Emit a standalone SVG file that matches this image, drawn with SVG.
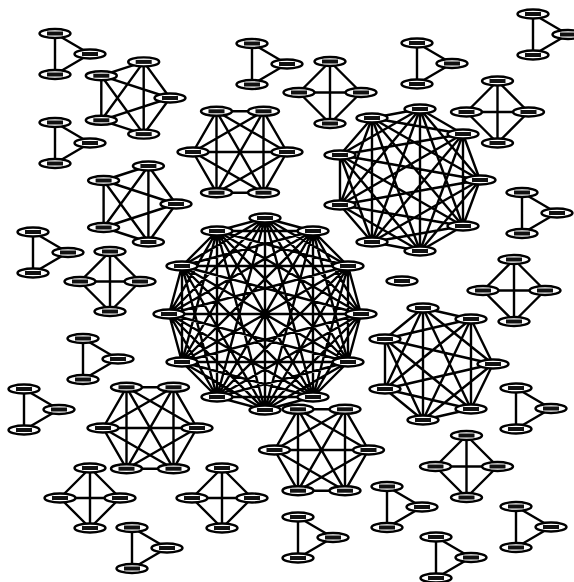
<svg xmlns="http://www.w3.org/2000/svg" xmlns:xlink="http://www.w3.org/1999/xlink" width="574" height="582" viewBox="0 0 574 582">
<style>
.e{fill:none;stroke:#000;stroke-width:2.4;stroke-linejoin:round;stroke-linecap:round}
.nd{fill:#fff;stroke:#000;stroke-width:2.4}
.nb{fill:#111}
</style>
<defs>
<g id="nd"><ellipse class="nd" cx="0" cy="0" rx="15.5" ry="4.5"/><rect class="nb" x="-8" y="-2" width="16" height="4"/></g>
</defs>
<rect width="574" height="582" fill="#fff"/>
<g id="connectors">
<path id="e-k12" class="e" d="M361 314 L348 266 L313 231 L265 218 L217 231 L182 266 L169 314 L182 362 L217 397 L265 410 L313 397 L348 362 Z M361 314 L313 231 L217 231 L169 314 L217 397 L313 397 Z M348 266 L265 218 L182 266 L182 362 L265 410 L348 362 Z M361 314 L265 218 L169 314 L265 410 Z M348 266 L217 231 L182 362 L313 397 Z M313 231 L182 266 L217 397 L348 362 Z M361 314 L217 231 L217 397 Z M348 266 L182 266 L265 410 Z M313 231 L169 314 L313 397 Z M265 218 L182 362 L348 362 Z M361 314 L182 266 L313 397 L265 218 L217 397 L348 266 L169 314 L348 362 L217 231 L265 410 L313 231 L182 362 Z M361 314 L169 314 M348 266 L182 362 M313 231 L217 397 M265 218 L265 410 M217 231 L313 397 M182 266 L348 362"/>
<path id="e-k9" class="e" d="M480 180 L463 134 L420 109 L372 118 L340 155 L340 205 L372 242 L420 251 L463 226 Z M480 180 L420 109 L340 155 L372 242 L463 226 L463 134 L372 118 L340 205 L420 251 Z M480 180 L372 118 L372 242 Z M463 134 L340 155 L420 251 Z M420 109 L340 205 L463 226 Z M480 180 L340 155 L463 226 L372 118 L420 251 L420 109 L372 242 L463 134 L340 205 Z"/>
<path id="e-k7" class="e" d="M493 364 L471 319 L423 308 L385 339 L385 389 L423 420 L471 409 Z M493 364 L423 308 L385 389 L471 409 L471 319 L385 339 L423 420 Z M493 364 L385 339 L471 409 L423 308 L423 420 L471 319 L385 389 Z"/>
<path id="e-h1" class="e" d="M287 152 L263.5 111.3 L216.5 111.3 L193 152 L216.5 192.7 L263.5 192.7 Z M287 152 L216.5 111.3 L216.5 192.7 Z M263.5 111.3 L193 152 L263.5 192.7 Z M287 152 L193 152 M263.5 111.3 L216.5 192.7 M216.5 111.3 L263.5 192.7"/>
<path id="e-h2" class="e" d="M197 428 L173.5 387.3 L126.5 387.3 L103 428 L126.5 468.7 L173.5 468.7 Z M197 428 L126.5 387.3 L126.5 468.7 Z M173.5 387.3 L103 428 L173.5 468.7 Z M197 428 L103 428 M173.5 387.3 L126.5 468.7 M126.5 387.3 L173.5 468.7"/>
<path id="e-h3" class="e" d="M368.5 450 L345 409.3 L298 409.3 L274.5 450 L298 490.7 L345 490.7 Z M368.5 450 L298 409.3 L298 490.7 Z M345 409.3 L274.5 450 L345 490.7 Z M368.5 450 L274.5 450 M345 409.3 L298 490.7 M298 409.3 L345 490.7"/>
<path id="e-p1" class="e" d="M170 98 L143.7 61.9 L101.3 75.7 L101.3 120.3 L143.7 134.1 Z M170 98 L101.3 75.7 L143.7 134.1 L143.7 61.9 L101.3 120.3 Z"/>
<path id="e-p2" class="e" d="M176 204 L148.4 166 L103.6 180.5 L103.6 227.5 L148.4 242 Z M176 204 L103.6 180.5 L148.4 242 L148.4 166 L103.6 227.5 Z"/>
<path id="e-d1" class="e" d="M330 61.5 L361 92.5 L330 123.5 L299 92.5 Z M330 61.5 L330 123.5 M299 92.5 L361 92.5"/>
<path id="e-d2" class="e" d="M497.5 81 L528.5 112 L497.5 143 L466.5 112 Z M497.5 81 L497.5 143 M466.5 112 L528.5 112"/>
<path id="e-d3" class="e" d="M110 251.5 L140 281.5 L110 311.5 L80 281.5 Z M110 251.5 L110 311.5 M80 281.5 L140 281.5"/>
<path id="e-d4" class="e" d="M514 259.5 L545 290.5 L514 321.5 L483 290.5 Z M514 259.5 L514 321.5 M483 290.5 L545 290.5"/>
<path id="e-d5" class="e" d="M466.5 435.5 L497.5 466.5 L466.5 497.5 L435.5 466.5 Z M466.5 435.5 L466.5 497.5 M435.5 466.5 L497.5 466.5"/>
<path id="e-d6" class="e" d="M90 468 L120 498 L90 528 L60 498 Z M90 468 L90 528 M60 498 L120 498"/>
<path id="e-d7" class="e" d="M222 468 L252 498 L222 528 L192 498 Z M222 468 L222 528 M192 498 L252 498"/>
<path id="e-t" class="e" d="M55 33.5 L55 74.5 L90 54 Z M55 122.5 L55 163.5 L90 143 Z M252 43.5 L252 84.5 L287 64 Z M533 14 L533 55 L568 34.5 Z M417 43 L417 84 L452 63.5 Z M33 232 L33 273 L68 252.5 Z M83 338.5 L83 379.5 L118 359 Z M522 192.5 L522 233.5 L557 213 Z M516 388 L516 429 L551 408.5 Z M24 389 L24 430 L59 409.5 Z M132 527.5 L132 568.5 L167 548 Z M298 517 L298 558 L333 537.5 Z M387 486.5 L387 527.5 L422 507 Z M516 506.5 L516 547.5 L551 527 Z M436 537 L436 578 L471 557.5 Z"/>
</g>
<g id="nodes">
<g id="k12-0"><use href="#nd" x="361" y="314"/></g>
<g id="k12-1"><use href="#nd" x="348" y="266"/></g>
<g id="k12-2"><use href="#nd" x="313" y="231"/></g>
<g id="k12-3"><use href="#nd" x="265" y="218"/></g>
<g id="k12-4"><use href="#nd" x="217" y="231"/></g>
<g id="k12-5"><use href="#nd" x="182" y="266"/></g>
<g id="k12-6"><use href="#nd" x="169" y="314"/></g>
<g id="k12-7"><use href="#nd" x="182" y="362"/></g>
<g id="k12-8"><use href="#nd" x="217" y="397"/></g>
<g id="k12-9"><use href="#nd" x="265" y="410"/></g>
<g id="k12-10"><use href="#nd" x="313" y="397"/></g>
<g id="k12-11"><use href="#nd" x="348" y="362"/></g>
<g id="k9-0"><use href="#nd" x="480" y="180"/></g>
<g id="k9-1"><use href="#nd" x="463" y="134"/></g>
<g id="k9-2"><use href="#nd" x="420" y="109"/></g>
<g id="k9-3"><use href="#nd" x="372" y="118"/></g>
<g id="k9-4"><use href="#nd" x="340" y="155"/></g>
<g id="k9-5"><use href="#nd" x="340" y="205"/></g>
<g id="k9-6"><use href="#nd" x="372" y="242"/></g>
<g id="k9-7"><use href="#nd" x="420" y="251"/></g>
<g id="k9-8"><use href="#nd" x="463" y="226"/></g>
<g id="k7-0"><use href="#nd" x="493" y="364"/></g>
<g id="k7-1"><use href="#nd" x="471" y="319"/></g>
<g id="k7-2"><use href="#nd" x="423" y="308"/></g>
<g id="k7-3"><use href="#nd" x="385" y="339"/></g>
<g id="k7-4"><use href="#nd" x="385" y="389"/></g>
<g id="k7-5"><use href="#nd" x="423" y="420"/></g>
<g id="k7-6"><use href="#nd" x="471" y="409"/></g>
<g id="h1-0"><use href="#nd" x="287" y="152"/></g>
<g id="h1-1"><use href="#nd" x="263.5" y="111.3"/></g>
<g id="h1-2"><use href="#nd" x="216.5" y="111.3"/></g>
<g id="h1-3"><use href="#nd" x="193" y="152"/></g>
<g id="h1-4"><use href="#nd" x="216.5" y="192.7"/></g>
<g id="h1-5"><use href="#nd" x="263.5" y="192.7"/></g>
<g id="h2-0"><use href="#nd" x="197" y="428"/></g>
<g id="h2-1"><use href="#nd" x="173.5" y="387.3"/></g>
<g id="h2-2"><use href="#nd" x="126.5" y="387.3"/></g>
<g id="h2-3"><use href="#nd" x="103" y="428"/></g>
<g id="h2-4"><use href="#nd" x="126.5" y="468.7"/></g>
<g id="h2-5"><use href="#nd" x="173.5" y="468.7"/></g>
<g id="h3-0"><use href="#nd" x="368.5" y="450"/></g>
<g id="h3-1"><use href="#nd" x="345" y="409.3"/></g>
<g id="h3-2"><use href="#nd" x="298" y="409.3"/></g>
<g id="h3-3"><use href="#nd" x="274.5" y="450"/></g>
<g id="h3-4"><use href="#nd" x="298" y="490.7"/></g>
<g id="h3-5"><use href="#nd" x="345" y="490.7"/></g>
<g id="p1-0"><use href="#nd" x="170" y="98"/></g>
<g id="p1-1"><use href="#nd" x="143.7" y="61.9"/></g>
<g id="p1-2"><use href="#nd" x="101.3" y="75.7"/></g>
<g id="p1-3"><use href="#nd" x="101.3" y="120.3"/></g>
<g id="p1-4"><use href="#nd" x="143.7" y="134.1"/></g>
<g id="p2-0"><use href="#nd" x="176" y="204"/></g>
<g id="p2-1"><use href="#nd" x="148.4" y="166"/></g>
<g id="p2-2"><use href="#nd" x="103.6" y="180.5"/></g>
<g id="p2-3"><use href="#nd" x="103.6" y="227.5"/></g>
<g id="p2-4"><use href="#nd" x="148.4" y="242"/></g>
<g id="d1-0"><use href="#nd" x="330" y="61.5"/></g>
<g id="d1-1"><use href="#nd" x="361" y="92.5"/></g>
<g id="d1-2"><use href="#nd" x="330" y="123.5"/></g>
<g id="d1-3"><use href="#nd" x="299" y="92.5"/></g>
<g id="d2-0"><use href="#nd" x="497.5" y="81"/></g>
<g id="d2-1"><use href="#nd" x="528.5" y="112"/></g>
<g id="d2-2"><use href="#nd" x="497.5" y="143"/></g>
<g id="d2-3"><use href="#nd" x="466.5" y="112"/></g>
<g id="d3-0"><use href="#nd" x="110" y="251.5"/></g>
<g id="d3-1"><use href="#nd" x="140" y="281.5"/></g>
<g id="d3-2"><use href="#nd" x="110" y="311.5"/></g>
<g id="d3-3"><use href="#nd" x="80" y="281.5"/></g>
<g id="d4-0"><use href="#nd" x="514" y="259.5"/></g>
<g id="d4-1"><use href="#nd" x="545" y="290.5"/></g>
<g id="d4-2"><use href="#nd" x="514" y="321.5"/></g>
<g id="d4-3"><use href="#nd" x="483" y="290.5"/></g>
<g id="d5-0"><use href="#nd" x="466.5" y="435.5"/></g>
<g id="d5-1"><use href="#nd" x="497.5" y="466.5"/></g>
<g id="d5-2"><use href="#nd" x="466.5" y="497.5"/></g>
<g id="d5-3"><use href="#nd" x="435.5" y="466.5"/></g>
<g id="d6-0"><use href="#nd" x="90" y="468"/></g>
<g id="d6-1"><use href="#nd" x="120" y="498"/></g>
<g id="d6-2"><use href="#nd" x="90" y="528"/></g>
<g id="d6-3"><use href="#nd" x="60" y="498"/></g>
<g id="d7-0"><use href="#nd" x="222" y="468"/></g>
<g id="d7-1"><use href="#nd" x="252" y="498"/></g>
<g id="d7-2"><use href="#nd" x="222" y="528"/></g>
<g id="d7-3"><use href="#nd" x="192" y="498"/></g>
<g id="t1-0"><use href="#nd" x="55" y="33.5"/></g>
<g id="t1-1"><use href="#nd" x="55" y="74.5"/></g>
<g id="t1-2"><use href="#nd" x="90" y="54"/></g>
<g id="t2-0"><use href="#nd" x="55" y="122.5"/></g>
<g id="t2-1"><use href="#nd" x="55" y="163.5"/></g>
<g id="t2-2"><use href="#nd" x="90" y="143"/></g>
<g id="t3-0"><use href="#nd" x="252" y="43.5"/></g>
<g id="t3-1"><use href="#nd" x="252" y="84.5"/></g>
<g id="t3-2"><use href="#nd" x="287" y="64"/></g>
<g id="t4-0"><use href="#nd" x="533" y="14"/></g>
<g id="t4-1"><use href="#nd" x="533" y="55"/></g>
<g id="t4-2"><use href="#nd" x="568" y="34.5"/></g>
<g id="t5-0"><use href="#nd" x="417" y="43"/></g>
<g id="t5-1"><use href="#nd" x="417" y="84"/></g>
<g id="t5-2"><use href="#nd" x="452" y="63.5"/></g>
<g id="t6-0"><use href="#nd" x="33" y="232"/></g>
<g id="t6-1"><use href="#nd" x="33" y="273"/></g>
<g id="t6-2"><use href="#nd" x="68" y="252.5"/></g>
<g id="t7-0"><use href="#nd" x="83" y="338.5"/></g>
<g id="t7-1"><use href="#nd" x="83" y="379.5"/></g>
<g id="t7-2"><use href="#nd" x="118" y="359"/></g>
<g id="t8-0"><use href="#nd" x="522" y="192.5"/></g>
<g id="t8-1"><use href="#nd" x="522" y="233.5"/></g>
<g id="t8-2"><use href="#nd" x="557" y="213"/></g>
<g id="t9-0"><use href="#nd" x="516" y="388"/></g>
<g id="t9-1"><use href="#nd" x="516" y="429"/></g>
<g id="t9-2"><use href="#nd" x="551" y="408.5"/></g>
<g id="t10-0"><use href="#nd" x="24" y="389"/></g>
<g id="t10-1"><use href="#nd" x="24" y="430"/></g>
<g id="t10-2"><use href="#nd" x="59" y="409.5"/></g>
<g id="t11-0"><use href="#nd" x="132" y="527.5"/></g>
<g id="t11-1"><use href="#nd" x="132" y="568.5"/></g>
<g id="t11-2"><use href="#nd" x="167" y="548"/></g>
<g id="t12-0"><use href="#nd" x="298" y="517"/></g>
<g id="t12-1"><use href="#nd" x="298" y="558"/></g>
<g id="t12-2"><use href="#nd" x="333" y="537.5"/></g>
<g id="t13-0"><use href="#nd" x="387" y="486.5"/></g>
<g id="t13-1"><use href="#nd" x="387" y="527.5"/></g>
<g id="t13-2"><use href="#nd" x="422" y="507"/></g>
<g id="t14-0"><use href="#nd" x="516" y="506.5"/></g>
<g id="t14-1"><use href="#nd" x="516" y="547.5"/></g>
<g id="t14-2"><use href="#nd" x="551" y="527"/></g>
<g id="t15-0"><use href="#nd" x="436" y="537"/></g>
<g id="t15-1"><use href="#nd" x="436" y="578"/></g>
<g id="t15-2"><use href="#nd" x="471" y="557.5"/></g>
<g id="lone"><use href="#nd" x="402" y="281"/></g>
</g>
</svg>
